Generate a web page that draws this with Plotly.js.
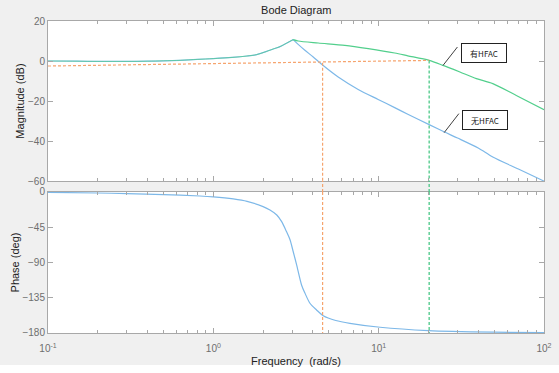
<!DOCTYPE html>
<html>
<head>
<meta charset="utf-8">
<script src="https://cdn.plot.ly/plotly-3.0.1.min.js"></script>
<style>html,body{margin:0;padding:0;background:#f0f0f0;}#chart{width:559px;height:373px;}</style>
</head>
<body>
<div id="chart"></div>
<script>
// ---- data ----
var freqMag = [0.1,0.15,0.2,0.3,0.4,0.5,0.63,0.8,1.0,1.3,1.6,1.83,2.1,2.3,2.53,2.77,3.04];
var magLow  = [0.0,-0.1,-0.2,-0.2,-0.1,0.1,0.35,0.8,1.2,1.8,2.5,3.2,4.8,6.0,7.2,8.9,10.7];

var freqBlueHi = [3.04,3.26,3.58,4.02,4.52,5.69,7.52,9.93,12.5,15,20.2,25,30,40,49,70,100];
var magBlueHi  = [10.7,8.3,5.35,2.0,-1.65,-8.0,-14.2,-19.2,-23.3,-26.6,-31.8,-35.5,-38.5,-43.5,-48,-54,-60];

var freqGreenHi = [3.04,3.26,4.31,6.25,8.65,12.5,15,20.2,24.5,31,39,49,68,100];
var magGreenHi  = [10.7,10.0,9.0,7.85,6.2,4.0,2.6,0.3,-2.2,-5.5,-8.8,-11.3,-17.2,-24.3];

var freqPhase = [0.1,0.2,0.3,0.5,0.83,1.0,1.32,1.6,2.0,2.2,2.42,2.59,2.77,2.91,3.04,3.19,3.42,3.58,3.84,4.21,4.62,5.5,6.7,10.2,20,50,100];
var phaseBlue = [-0.5,-1.3,-2.0,-3.4,-5.1,-6.2,-8.9,-12,-18.7,-23,-29.4,-37.9,-50.6,-61,-76,-93,-119,-129,-142,-150.6,-158,-164,-167.6,-172.7,-177,-179,-179.6];

var refLineFreq = [0.1, 20.2];
var refLineMag  = [-2.5, 0.3];
var crossFreqNo = 4.58, crossMagNo = -0.9;    // 无HFAC crossover
var crossFreqYes = 20.2, crossMagYes = 0.3;   // 有HFAC crossover

var labelYes = '有HFAC', labelNo = '无HFAC';
var labelYesPt = [24.5, -2.2], labelNoPt = [24.9, -35.8];

var magTicks = [20,0,-20,-40,-60];
var phaseTicks = [0,-45,-90,-135,-180];
var decadeVals = [0.1,1,10,100];
var decadeText = ['10<sup>-1</sup>','10<sup>0</sup>','10<sup>1</sup>','10<sup>2</sup>'];
var minorVals = [];
[0.1,1,10].forEach(function(d){for(var k=2;k<=9;k++){minorVals.push(d*k);}});

// ---- styles ----
var BLUE = '#7db8e8', GREEN = '#52cf8c', ORANGE = '#f6a46e', GDASH = '#3dc47e';
var AX = '#a8a8a8', TXT = '#222222', TICKTXT = '#6e6e6e';
var FONT = 'Liberation Sans, Arial, sans-serif';
var topDom = [0.487, 1], botDom = [0, 0.452];
var smooth = {width:1.2, shape:'spline', smoothing:0.8};
function ln(c){ return Object.assign({color:c}, smooth); }
var dashL = function(c){ return {color:c, width:1.2, dash:'3px,2px'}; };

var traces = [
  {x: freqBlueHi, y: magBlueHi, xaxis:'x', yaxis:'y', mode:'lines', line:ln(BLUE)},
  {x: freqGreenHi, y: magGreenHi, xaxis:'x', yaxis:'y', mode:'lines', line:ln(GREEN)},
  {x: freqMag, y: magLow, xaxis:'x', yaxis:'y', mode:'lines', line:ln(BLUE)},
  {x: freqMag, y: magLow, xaxis:'x', yaxis:'y', mode:'lines', line:Object.assign({}, ln(GREEN), {width:1}), opacity:0.7},
  {x: refLineFreq, y: refLineMag, xaxis:'x', yaxis:'y', mode:'lines', line:dashL(ORANGE)},
  {x: [crossFreqNo, crossFreqNo], y: [crossMagNo, -60], xaxis:'x', yaxis:'y', mode:'lines', line:dashL(ORANGE)},
  {x: [crossFreqYes, crossFreqYes], y: [crossMagYes, -60], xaxis:'x', yaxis:'y', mode:'lines', line:dashL(GDASH)},
  {x: freqPhase, y: phaseBlue, xaxis:'x2', yaxis:'y2', mode:'lines', line:ln(BLUE)},
  {x: [crossFreqNo, crossFreqNo], y: [0, -180], xaxis:'x2', yaxis:'y2', mode:'lines', line:dashL(ORANGE)},
  {x: [crossFreqYes, crossFreqYes], y: [0, -180], xaxis:'x2', yaxis:'y2', mode:'lines', line:dashL(GDASH)}
];

function xax(extra){
  var a = {type:'log', range:[-1,2], showgrid:false, zeroline:false,
    showline:true, linecolor:AX, linewidth:1, mirror:'ticks',
    ticks:'inside', ticklen:5, tickcolor:AX, tickvals:decadeVals, ticktext:decadeText,
    tickfont:{family:FONT, size:10, color:TICKTXT},
    minor:{tickmode:'array', tickvals:minorVals, ticks:'inside', ticklen:3, tickcolor:AX, showgrid:false}};
  for (var k in extra) a[k] = extra[k];
  return a;
}
function yax(ticks, rng, dom, title, standoff){
  return {range:rng, domain:dom, tickvals:ticks, showgrid:false, zeroline:false,
    showline:true, linecolor:AX, linewidth:1, mirror:'ticks',
    ticks:'inside', ticklen:5, tickcolor:AX,
    tickfont:{family:FONT, size:10, color:TICKTXT},
    title:{text:title, standoff:standoff, font:{family:FONT, size:11, color:TXT}}};
}

var layout = {
  width:559, height:373,
  margin:{l:48, r:15, t:21, b:40},
  paper_bgcolor:'#f0f0f0', plot_bgcolor:'#ffffff',
  showlegend:false,
  title:{text:'Bode Diagram', x:0.53, xanchor:'center', yref:'container', y:0.973, yanchor:'middle',
         font:{family:FONT, size:11, color:TXT}},
  xaxis: xax({anchor:'y', matches:'x2', showticklabels:false}),
  xaxis2: xax({anchor:'y2', ticklabelstandoff:6,
           title:{text:'Frequency \u00a0(rad/s)', standoff:4, font:{family:FONT, size:11, color:TXT}}}),
  yaxis: yax(magTicks, [-60,20], topDom, 'Magnitude (dB)', 1),
  yaxis2: yax(phaseTicks, [-180,0], botDom, 'Phase (deg)', 0),
  shapes: [
    {type:'line', xref:'x', yref:'paper', x0:crossFreqNo, x1:crossFreqNo, y0:botDom[1], y1:topDom[0], line:dashL(ORANGE)},
    {type:'line', xref:'x', yref:'paper', x0:crossFreqYes, x1:crossFreqYes, y0:botDom[1], y1:topDom[0], line:dashL(GDASH)},
    {type:'line', xref:'x', yref:'y', xsizemode:'pixel', ysizemode:'pixel', xanchor:labelYesPt[0], yanchor:labelYesPt[1],
     x0:0, x1:14.4, y0:0, y1:18.4, line:{color:'#404040', width:1}},
    {type:'line', xref:'x', yref:'y', xsizemode:'pixel', ysizemode:'pixel', xanchor:labelNoPt[0], yanchor:labelNoPt[1],
     x0:0, x1:14.7, y0:0, y1:19, line:{color:'#404040', width:1}},
    {type:'rect', xref:'paper', yref:'paper', x0:-0.2, x1:1.2, y0:-0.2, y1:-0.1026, fillcolor:'#ffffff', line:{width:0}, layer:'above'}
  ],
  annotations: [
    {x:Math.log10(labelYesPt[0]), y:labelYesPt[1], xref:'x', yref:'y', showarrow:false, xshift:41, yshift:12.4,
     text:labelYes, width:44, height:18, borderpad:0, bordercolor:'#222', borderwidth:1, bgcolor:'#ffffff',
     font:{family:'Noto Sans CJK SC, sans-serif', size:8, color:'#222'}},
    {x:Math.log10(labelNoPt[0]), y:labelNoPt[1], xref:'x', yref:'y', showarrow:false, xshift:41, yshift:13,
     text:labelNo, width:44, height:18, borderpad:0, bordercolor:'#222', borderwidth:1, bgcolor:'#ffffff',
     font:{family:'Noto Sans CJK SC, sans-serif', size:8, color:'#222'}}
  ]
};

Plotly.newPlot('chart', traces, layout, {staticPlot:true});
</script>
</body>
</html>
